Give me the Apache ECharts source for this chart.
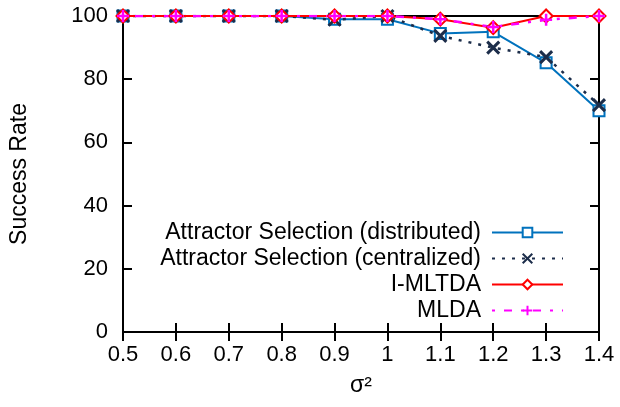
<!DOCTYPE html>
<html>
<head>
<meta charset="utf-8">
<script src="https://cdn.jsdelivr.net/npm/echarts@6/dist/echarts.min.js"></script>
<style>
  html, body { margin: 0; padding: 0; background: #fff; }
  #main { width: 620px; height: 407px; }
</style>
</head>
<body>
<div id="main"></div>
<script>
  // data
  var sigma2 = ['0.5', '0.6', '0.7', '0.8', '0.9', '1', '1.1', '1.2', '1.3', '1.4'];
  var distributed = [100, 100, 100, 100, 99, 99, 94.5, 95, 85.2, 70];
  var centralized = [100, 100, 100, 100, 98.8, 100, 93.7, 90, 87, 71.8];
  var imltda = [100, 100, 100, 100, 100, 100, 99, 96.3, 100, 100];
  var mlda = [100, 100, 100, 100, 100, 100, 99, 96.5, 98.8, 100];
  var seriesNames = ['Attractor Selection (distributed)', 'Attractor Selection (centralized)', 'I-MLTDA', 'MLDA'];

  var font = 'Liberation Sans, Arial, sans-serif';
  var crossPath = 'path://M0,0L10,10M10,0L0,10';
  var plusPath = 'path://M5,0L5,10M0,5L10,5';

  var myChart = echarts.init(document.getElementById('main'));

  var option = {
    animation: false,
    textStyle: { fontFamily: font },
    grid: {
      left: 123, right: 21, top: 16, bottom: 75,
      show: true, borderColor: '#000', borderWidth: 2
    },
    legend: {
      right: 51,
      top: 216,
      orient: 'vertical',
      align: 'right',
      itemWidth: 71,
      itemHeight: 12,
      itemGap: 3,
      textStyle: { fontSize: 23, lineHeight: 22, color: '#000', fontFamily: font, padding: [0, 6, 0, 0] },
      data: seriesNames
    },
    xAxis: [{
      type: 'category',
      data: sigma2,
      boundaryGap: false,
      name: 'σ²',
      nameLocation: 'middle',
      nameGap: 42,
      nameTextStyle: { fontSize: 23, color: '#000' },
      axisLine: { lineStyle: { color: '#000', width: 2 } },
      axisTick: { inside: true, length: 9, lineStyle: { color: '#000', width: 2 } },
      axisLabel: { fontSize: 22, color: '#000', margin: 12 },
      splitLine: { show: false }
    }, {
      type: 'category',
      data: sigma2,
      boundaryGap: false,
      position: 'top',
      axisLine: { lineStyle: { color: '#000', width: 2 } },
      axisTick: { inside: true, length: 9, lineStyle: { color: '#000', width: 2 } },
      axisLabel: { show: false }
    }],
    yAxis: [{
      type: 'value',
      min: 0, max: 100, interval: 20,
      name: 'Success Rate',
      nameLocation: 'middle',
      nameGap: 92,
      nameTextStyle: { fontSize: 23, color: '#000' },
      axisLine: { show: true, lineStyle: { color: '#000', width: 2 } },
      axisTick: { show: true, inside: true, length: 9, lineStyle: { color: '#000', width: 2 } },
      axisLabel: { fontSize: 22, color: '#000', margin: 15 },
      splitLine: { show: false }
    }, {
      type: 'value',
      min: 0, max: 100, interval: 20,
      position: 'right',
      axisLine: { show: true, lineStyle: { color: '#000', width: 2 } },
      axisTick: { show: true, inside: true, length: 9, lineStyle: { color: '#000', width: 2 } },
      axisLabel: { show: false },
      splitLine: { show: false }
    }],
    series: [{
      name: seriesNames[0],
      type: 'line',
      data: distributed,
      symbol: 'rect',
      symbolSize: 11,
      color: '#0072bd',
      lineStyle: { color: '#0072bd', width: 2 },
      itemStyle: { color: '#ffffff', borderColor: '#0072bd', borderWidth: 2 }
    }, {
      name: seriesNames[1],
      type: 'line',
      data: centralized,
      symbol: crossPath,
      symbolSize: 12,
      color: '#1c2d4a',
      lineStyle: { color: '#1c2d4a', width: 2.5, type: [3, 7] },
      itemStyle: { color: 'none', borderColor: '#1c2d4a', borderWidth: 3 }
    }, {
      name: seriesNames[2],
      type: 'line',
      data: imltda,
      symbol: 'diamond',
      symbolSize: 13,
      color: '#ff0000',
      lineStyle: { color: '#ff0000', width: 2 },
      itemStyle: { color: '#ffffff', borderColor: '#ff0000', borderWidth: 2 }
    }, {
      name: seriesNames[3],
      type: 'line',
      data: mlda,
      symbol: plusPath,
      symbolSize: 12,
      color: '#ff00ff',
      lineStyle: { color: '#ff00ff', width: 2.5, type: [3, 9, 8, 9] },
      itemStyle: { color: 'none', borderColor: '#ff00ff', borderWidth: 2.5 }
    }]
  };

  myChart.setOption(option);
</script>
</body>
</html>
